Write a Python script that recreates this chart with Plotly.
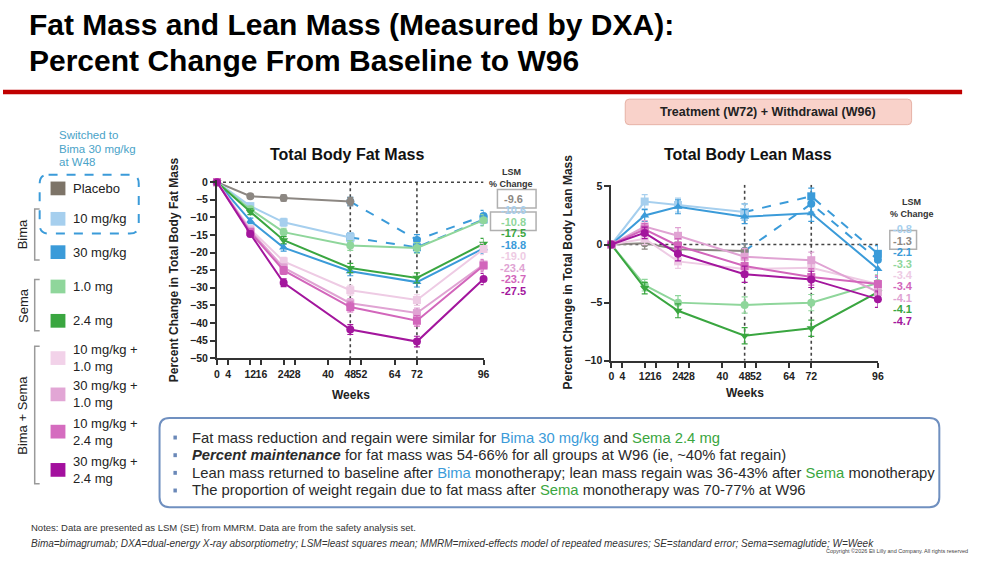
import plotly.graph_objects as go

W, H = 981, 573
FONT = "Liberation Sans, Arial, Helvetica, sans-serif"


def px(x):
    return x / W


def py(y):
    return 1 - y / H


# ---------------- data ----------------
weeks = [0, 12, 24, 48, 72, 96]
tick_weeks = [0, 4, 12, 16, 24, 28, 40, 48, 52, 64, 72, 96]
fat_yticks = [0, -5, -10, -15, -20, -25, -30, -35, -40, -45, -50]
lean_yticks = [5, 0, -5, -10]
switch_week = 48

group_names = ["Placebo", "Bima 10 mg/kg", "Bima 30 mg/kg", "Sema 1.0 mg", "Sema 2.4 mg",
               "Bima 10 mg/kg + Sema 1.0 mg", "Bima 30 mg/kg + Sema 1.0 mg",
               "Bima 10 mg/kg + Sema 2.4 mg", "Bima 30 mg/kg + Sema 2.4 mg"]
legend_labels = ["Placebo", "10 mg/kg", "30 mg/kg", "1.0 mg", "2.4 mg",
                 "10 mg/kg +<br>1.0 mg", "30 mg/kg +<br>1.0 mg",
                 "10 mg/kg +<br>2.4 mg", "30 mg/kg +<br>2.4 mg"]
line_colors = ["#8c8782", "#a6cfee", "#3b9bd9", "#8fd69b", "#3aa640",
               "#eecbe4", "#e0a3d3", "#d266bb", "#a3169d"]
legend_colors = ["#7d7468", "#a6cfee", "#3b9bd9", "#8fd69b", "#3aa640",
                 "#f2d2e9", "#e2a6d5", "#d56cbf", "#a3109e"]
symbols = ["circle", "square", "triangle-up", "circle", "triangle-down",
           "square", "square", "square", "circle"]
switched = [True, True, False, False, False, False, False, False, False]
SWITCH_COLOR = "#3b9bd9"

# Percent change in total body fat mass (LSM) by week
fat_placebo = [0, -4.0, -4.5, -5.5, -16.4, -9.6]
fat_bima10 = [0, -6.8, -11.4, -15.7, -18.5, -10.6]
fat_bima30 = [0, -11.0, -18.6, -25.3, -28.4, -18.8]
fat_sema10 = [0, -7.7, -14.2, -18.0, -18.7, -10.8]
fat_sema24 = [0, -8.4, -16.5, -24.4, -27.2, -17.5]
fat_b10s10 = [0, -13.3, -22.5, -30.7, -33.5, -19.0]
fat_b30s10 = [0, -13.8, -24.3, -34.4, -37.2, -23.4]
fat_b10s24 = [0, -14.2, -25.1, -35.5, -39.4, -23.7]
fat_b30s24 = [0, -14.7, -28.6, -41.9, -45.3, -27.5]
fat_se_placebo = [0, 0.6, 0.9, 1.2, 1.5, 1.6]
fat_se_bima10 = [0, 0.8, 1.1, 1.4, 1.5, 1.7]
fat_se_bima30 = [0, 0.8, 1.0, 1.3, 1.4, 1.6]
fat_se_sema10 = [0, 0.8, 1.1, 1.4, 1.5, 1.6]
fat_se_sema24 = [0, 0.8, 1.0, 1.3, 1.4, 1.5]
fat_se_b10s10 = [0, 0.8, 1.1, 1.4, 1.5, 1.6]
fat_se_b30s10 = [0, 0.8, 1.0, 1.3, 1.4, 1.5]
fat_se_b10s24 = [0, 0.8, 1.1, 1.4, 1.5, 1.6]
fat_se_b30s24 = [0, 0.8, 1.1, 1.4, 1.5, 1.6]

# Percent change in total body lean mass (LSM) by week
lean_placebo = [0, 0.1, -0.4, -0.55, 3.5, -1.3]
lean_bima10 = [0, 3.7, 3.4, 2.8, 4.15, -0.8]
lean_bima30 = [0, 2.5, 3.25, 2.4, 2.7, -2.1]
lean_sema10 = [0, -3.5, -5.0, -5.2, -5.0, -3.3]
lean_sema24 = [0, -3.75, -5.7, -7.85, -7.2, -4.1]
lean_b10s10 = [0, 0.5, -1.45, -2.1, -2.0, -3.4]
lean_b30s10 = [0, 1.55, 0.75, -1.05, -1.35, -4.1]
lean_b10s24 = [0, 1.3, -0.1, -1.85, -2.8, -3.4]
lean_b30s24 = [0, 1.0, -0.8, -2.55, -3.0, -4.7]
lean_se_placebo = [0, 0.5, 0.6, 0.6, 0.7, 0.7]
lean_se_bima10 = [0, 0.6, 0.6, 0.7, 0.7, 0.7]
lean_se_bima30 = [0, 0.5, 0.6, 0.6, 0.7, 0.7]
lean_se_sema10 = [0, 0.5, 0.6, 0.7, 0.7, 0.7]
lean_se_sema24 = [0, 0.5, 0.6, 0.7, 0.7, 0.7]
lean_se_b10s10 = [0, 0.5, 0.6, 0.7, 0.7, 0.7]
lean_se_b30s10 = [0, 0.5, 0.7, 0.7, 0.7, 0.7]
lean_se_b10s24 = [0, 0.5, 0.6, 0.7, 0.7, 0.7]
lean_se_b30s24 = [0, 0.5, 0.6, 0.7, 0.7, 0.7]

fat_series = [fat_placebo, fat_bima10, fat_bima30, fat_sema10, fat_sema24,
              fat_b10s10, fat_b30s10, fat_b10s24, fat_b30s24]
fat_se = [fat_se_placebo, fat_se_bima10, fat_se_bima30, fat_se_sema10, fat_se_sema24,
          fat_se_b10s10, fat_se_b30s10, fat_se_b10s24, fat_se_b30s24]
lean_series = [lean_placebo, lean_bima10, lean_bima30, lean_sema10, lean_sema24,
               lean_b10s10, lean_b30s10, lean_b10s24, lean_b30s24]
lean_se = [lean_se_placebo, lean_se_bima10, lean_se_bima30, lean_se_sema10, lean_se_sema24,
           lean_se_b10s10, lean_se_b30s10, lean_se_b10s24, lean_se_b30s24]

fat_label_order = [0, 1, 3, 4, 2, 5, 6, 7, 8]
lean_label_order = [1, 0, 2, 3, 5, 7, 6, 4, 8]

# ---------------- figure ----------------
fig = go.Figure()


def add_group(i, vals, ses, xa, ya):
    c = line_colors[i]
    if switched[i]:
        k = weeks.index(switch_week)
        fig.add_trace(go.Scatter(
            x=weeks[k:], y=vals[k:], xaxis=xa, yaxis=ya, mode="lines+markers",
            name=group_names[i] + " (switched)", showlegend=False, cliponaxis=False,
            line=dict(color=SWITCH_COLOR, width=2, dash="dash"),
            marker=dict(symbol=symbols[i], size=8, color=SWITCH_COLOR),
            error_y=dict(type="data", array=ses[k:], color=SWITCH_COLOR, thickness=1.2, width=3)))
        xs, ys, es = weeks[:k + 1], vals[:k + 1], ses[:k + 1]
    else:
        xs, ys, es = weeks, vals, ses
    fig.add_trace(go.Scatter(
        x=xs, y=ys, xaxis=xa, yaxis=ya, mode="lines+markers",
        name=group_names[i], showlegend=False, cliponaxis=False,
        line=dict(color=c, width=2),
        marker=dict(symbol=symbols[i], size=8, color=c),
        error_y=dict(type="data", array=es, color=c, thickness=1.2, width=3)))


for i in range(len(group_names)):
    add_group(i, fat_series[i], fat_se[i], "x", "y")
for i in range(len(group_names)):
    add_group(i, lean_series[i], lean_se[i], "x2", "y2")

axis_common = dict(showgrid=False, zeroline=False, showline=True, linecolor="#333", linewidth=2,
                   ticks="outside", ticklen=5, tickwidth=2, tickcolor="#333",
                   tickfont=dict(family=FONT, size=10.5, color="#222", weight="bold"))

fig.update_layout(
    width=W, height=H, margin=dict(l=0, r=0, t=0, b=0),
    paper_bgcolor="white", plot_bgcolor="white", showlegend=False,
    font=dict(family=FONT, color="#222"),
    xaxis=dict(domain=[px(216), px(485)], range=[0, 96], anchor="y", tickvals=tick_weeks,
               ticktext=[str(t) for t in tick_weeks], tickangle=0, **axis_common),
    yaxis=dict(domain=[py(360), py(178.5)], range=[-50, 0.6], anchor="x", tickvals=fat_yticks,
               **axis_common),
    xaxis2=dict(domain=[px(614), px(883)], range=[0, 96], anchor="y2", tickvals=tick_weeks,
                ticktext=[str(t) for t in tick_weeks], tickangle=0, **axis_common),
    yaxis2=dict(domain=[py(362.7), py(183.2)], range=[-10, 5.15], anchor="x2", tickvals=lean_yticks,
                **axis_common),
)

shapes = []
annotations = []
dot = dict(color="#444", width=1.6, dash="dot")
# reference lines
shapes.append(dict(type="line", xref="x", yref="y", x0=0, x1=96, y0=0, y1=0, line=dot, layer="below"))
shapes.append(dict(type="line", xref="x2", yref="y2", x0=0, x1=96, y0=0, y1=0, line=dot, layer="below"))
for wk in [48, 72]:
    shapes.append(dict(type="line", xref="x", yref="y", x0=wk, x1=wk, y0=0, y1=-50, line=dot, layer="below"))
    shapes.append(dict(type="line", xref="x2", yref="y2", x0=wk, x1=wk, y0=5.15, y1=-10, line=dot, layer="below"))


def ann(x, y, text, size=12, color="#222", bold=False, xanchor="center", yanchor="middle", angle=0, italic=False):
    t = text
    if bold:
        t = "<b>" + t + "</b>"
    if italic:
        t = "<i>" + t + "</i>"
    annotations.append(dict(x=px(x), y=py(y), xref="paper", yref="paper", text=t, showarrow=False,
                            xanchor=xanchor, yanchor=yanchor, textangle=angle, align="left",
                            borderpad=0,
                            font=dict(family=FONT, size=size, color=color)))


def rounded_rect(x0, y0, x1, y1, r):
    X0, X1 = px(x0), px(x1)
    Y0, Y1 = py(y0), py(y1)
    rx, ry = r / W, r / H
    return (f"M {X0 + rx} {Y0} L {X1 - rx} {Y0} Q {X1} {Y0} {X1} {Y0 - ry} "
            f"L {X1} {Y1 + ry} Q {X1} {Y1} {X1 - rx} {Y1} L {X0 + rx} {Y1} "
            f"Q {X0} {Y1} {X0} {Y1 + ry} L {X0} {Y0 - ry} Q {X0} {Y0} {X0 + rx} {Y0} Z")


# title + red rule
ann(25, 20, "Fat Mass and Lean Mass (Measured by DXA):", size=30, color="#000", bold=True, xanchor="left")
ann(25, 57, "Percent Change From Baseline to W96", size=30, color="#000", bold=True, xanchor="left")
shapes.append(dict(type="rect", xref="paper", yref="paper", x0=0, x1=px(968), y0=py(91), y1=py(86.5),
                   fillcolor="#c00000", line=dict(width=0)))

# treatment box
shapes.append(dict(type="path", xref="paper", yref="paper", path=rounded_rect(628, 96, 917, 122, 4),
                   fillcolor="#f9d2ca", line=dict(color="#e6b2a6", width=1)))
ann(772.5, 109.5, "Treatment (W72) + Withdrawal (W96)", size=12.5, color="#222", bold=True)

# panel titles and axis titles
ann(347, 152, "Total Body Fat Mass", size=16, color="#111", bold=True)
ann(752, 152, "Total Body Lean Mass", size=16, color="#111", bold=True)
ann(172, 270, "Percent Change in Total Body Fat Mass", size=12, color="#222", bold=True, angle=-90)
ann(570, 272, "Percent Change in Total Body Lean Mass", size=12, color="#222", bold=True, angle=-90)
ann(351, 398, "Weeks", size=12, color="#222", bold=True)
ann(749, 396, "Weeks", size=12, color="#222", bold=True)

# LSM % change labels
ann(513, 170, "LSM", size=9, color="#333", bold=True)
ann(513, 182.5, "% Change", size=9, color="#333", bold=True)
for j, i in enumerate(fat_label_order):
    ann(515, 197.5 + 11.7 * j, f"{fat_series[i][-1]:.1f}", size=11, color=line_colors[i], bold=True)
ann(917, 201, "LSM", size=9, color="#333", bold=True)
ann(917, 213, "% Change", size=9, color="#333", bold=True)
for j, i in enumerate(lean_label_order):
    ann(908, 228.5 + 11.7 * j, f"{lean_series[i][-1]:.1f}", size=11, color=line_colors[i], bold=True)
box_line = dict(color="#b0b0b0", width=1.5)
shapes.append(dict(type="rect", xref="paper", yref="paper", x0=px(499), x1=px(538), y0=py(207), y1=py(188), line=box_line))
shapes.append(dict(type="rect", xref="paper", yref="paper", x0=px(492), x1=px(538), y0=py(230), y1=py(211), line=box_line))
shapes.append(dict(type="rect", xref="paper", yref="paper", x0=px(895), x1=px(922), y0=py(249), y1=py(230), line=box_line))

# custom legend
ann(56, 133, "Switched to", size=11.5, color="#4aa3c8", xanchor="left")
ann(56, 146.5, "Bima 30 mg/kg", size=11.5, color="#4aa3c8", xanchor="left")
ann(56, 160, "at W48", size=11.5, color="#4aa3c8", xanchor="left")
shapes.append(dict(type="path", xref="paper", yref="paper", path=rounded_rect(37, 173, 137, 233, 9),
                   line=dict(color="#3b9bd9", width=2, dash="dash")))
legend_y = [187, 218, 252, 287, 322, 360, 397, 435, 474]
for i, yc in enumerate(legend_y):
    shapes.append(dict(type="rect", xref="paper", yref="paper", x0=px(48), x1=px(63),
                       y0=py(yc + 7), y1=py(yc - 7), fillcolor=legend_colors[i], line=dict(width=0)))
    ann(70, yc, legend_labels[i], size=13, color="#222", xanchor="left")

bracket = dict(color="#9a9a9a", width=1.5)
for (y0, y1, label, yl) in [(208, 260, "Bima", 234), (280, 332, "Sema", 306), (348, 488, "Bima + Sema", 418)]:
    path = f"M {px(37)} {py(y0)} L {px(32)} {py(y0)} L {px(32)} {py(y1)} L {px(37)} {py(y1)}"
    shapes.append(dict(type="path", xref="paper", yref="paper", path=path, line=bracket))
    ann(20, yl, label, size=13, color="#222", angle=-90)

# summary box
shapes.append(dict(type="path", xref="paper", yref="paper", path=rounded_rect(158, 421, 945, 512, 10),
                   line=dict(color="#7090c0", width=2)))
BLUE = "#3b9bd9"
GREEN = "#3aa640"
bullets = [
    f"Fat mass reduction and regain were similar for <span style='color:{BLUE}'>Bima 30 mg/kg</span> and <span style='color:{GREEN}'>Sema 2.4 mg</span>",
    "<b><i>Percent maintenance</i></b> for fat mass was 54-66% for all groups at W96 (ie, ~40% fat regain)",
    f"Lean mass returned to baseline after <span style='color:{BLUE}'>Bima</span> monotherapy; lean mass regain was 36-43% after <span style='color:{GREEN}'>Sema</span> monotherapy",
    f"The proportion of weight regain due to fat mass after <span style='color:{GREEN}'>Sema</span> monotherapy was 70-77% at W96",
]
for j, txt in enumerate(bullets):
    yc = 441 + 18 * j
    shapes.append(dict(type="rect", xref="paper", yref="paper", x0=px(172), x1=px(175.5),
                       y0=py(yc + 2), y1=py(yc - 2), fillcolor="#6a88b8", line=dict(width=0)))
    ann(190, yc, txt, size=14.8, color="#2a2a2a", xanchor="left")

# notes
ann(27, 533, "Notes: Data are presented as LSM (SE) from MMRM. Data are from the safety analysis set.",
    size=9.5, color="#333", xanchor="left")
ann(27, 549, "Bima=bimagrumab; DXA=dual-energy X-ray absorptiometry; LSM=least squares mean; MMRM=mixed-effects model of repeated measures; SE=standard error; Sema=semaglutide; W=Week",
    size=10, color="#333", xanchor="left", italic=True)
ann(975, 557, "Copyright ©2026 Eli Lilly and Company. All rights reserved", size=5.5, color="#444", xanchor="right")

fig.update_layout(shapes=shapes, annotations=annotations)
fig.write_html("out.html", config={"displayModeBar": False},
               post_script="document.body.style.margin='0px';document.body.style.overflow='hidden';")
